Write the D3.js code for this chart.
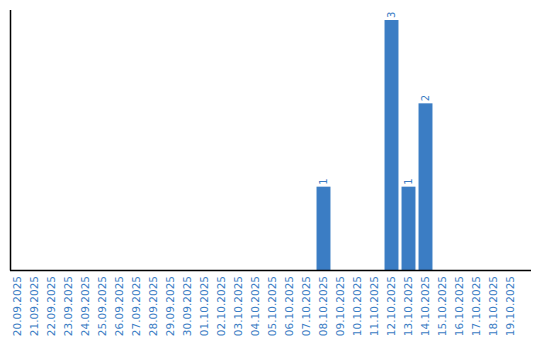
<!DOCTYPE html>
<html><head><meta charset="utf-8">
<script src="https://cdn.jsdelivr.net/npm/d3@7"></script>
<style>body{margin:0;background:#fff}svg{display:block}</style>
</head><body>
<svg id="c" width="540" height="340"></svg>
<script>
const dates = ["20.09.2025","21.09.2025","22.09.2025","23.09.2025","24.09.2025","25.09.2025","26.09.2025","27.09.2025","28.09.2025","29.09.2025","30.09.2025","01.10.2025","02.10.2025","03.10.2025","04.10.2025","05.10.2025","06.10.2025","07.10.2025","08.10.2025","09.10.2025","10.10.2025","11.10.2025","12.10.2025","13.10.2025","14.10.2025","15.10.2025","16.10.2025","17.10.2025","18.10.2025","19.10.2025"];
const values = [0,0,0,0,0,0,0,0,0,0,0,0,0,0,0,0,0,0,1,0,0,0,3,1,2,0,0,0,0,0];

const svg = d3.select("#c");
const color = "#3b7dc4";
const font = "DejaVu Sans, Verdana, sans-serif";
const x = d3.scaleBand().domain(dates).range([9, 519]).paddingInner(0.18).paddingOuter(0.09);
const y = d3.scaleLinear().domain([0, 3.12]).range([270, 10]);

svg.append("g").selectAll("rect").data(dates.map((d,i)=>({d,v:values[i]})).filter(o=>o.v>0))
  .join("rect")
  .attr("x", o=>x(o.d)).attr("width", x.bandwidth())
  .attr("y", o=>y(o.v)).attr("height", o=>y(0)-y(o.v))
  .attr("fill", color);

svg.append("g").selectAll("text").data(dates.map((d,i)=>({d,v:values[i]})).filter(o=>o.v>0))
  .join("text")
  .attr("transform", o=>`translate(${x(o.d)+x.bandwidth()/2+3.5},${y(o.v)-2}) rotate(-90)`)
  .attr("font-family", font).attr("font-size", 10).attr("fill", color)
  .text(o=>o.v);

const xa = svg.append("g").attr("transform","translate(0,270)")
  .call(d3.axisBottom(x).tickSize(0).tickPadding(0));
xa.select(".domain").remove();
xa.selectAll("text")
  .attr("font-family", font).attr("font-size", 10.5).attr("fill", color)
  .attr("text-anchor","end").attr("dy", null)
  .attr("transform","translate(3.5,6) rotate(-90)")
  .attr("x",0).attr("y",0);

svg.append("line").attr("x1",10.5).attr("x2",10.5).attr("y1",y.range()[1]).attr("y2",270.5)
  .attr("stroke","#000").attr("stroke-width",1.5);
svg.append("line").attr("x1",10).attr("x2",531).attr("y1",270.5).attr("y2",270.5)
  .attr("stroke","#000").attr("stroke-width",1.5);
</script>
</body></html>
